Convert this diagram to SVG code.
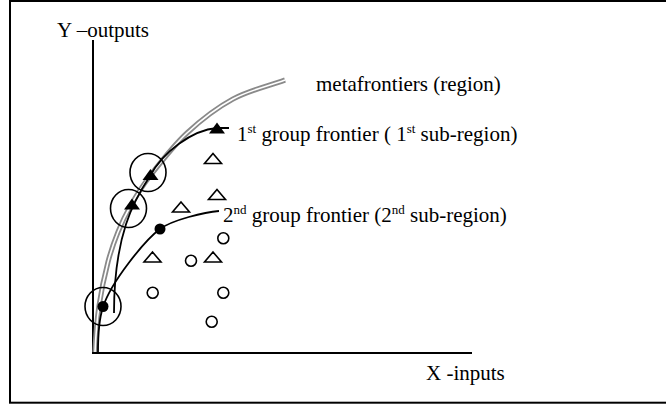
<svg xmlns="http://www.w3.org/2000/svg" xmlns:xlink="http://www.w3.org/1999/xlink" width="666" height="405" viewBox="0 0 666 405">
<style>
text{font-family:"Liberation Serif","Times New Roman",serif;font-size:21px;fill:#000}
.sup{font-size:13px}
.ax{stroke:#000;stroke-width:2;fill:none}
.fr{stroke:#000;stroke-width:1.8;fill:none}
.mfo{stroke:#8a8a8a;stroke-width:5.2;fill:none}
.mfi{stroke:#fff;stroke-width:1.6;fill:none}
.ring{stroke:#000;stroke-width:1.6;fill:none}
.ho{stroke:#000;stroke-width:1.6;fill:#fff}
.fi{fill:#000}
</style>
<defs>
<path id="tri" d="M0 -5 L8.5 5 H-8.5 Z"/>
<path id="ftri" d="M0 -5.5 L8 5.5 H-8 Z"/>
<path id="meta" d="M95 352 C95.7 336.7 96.8 321 99 306 C101.2 291 104.8 274.3 108 262 C111.2 249.7 114.2 241.5 118 232 C121.8 222.5 125.7 214.3 131 205 C136.3 195.7 140.7 188 150 176 C159.3 164 173.2 145.8 187 133 C200.8 120.2 216.7 107.8 233 99 C249.3 90.2 267.7 86.3 285 80"/>
</defs>
<rect width="666" height="405" fill="#fff"/>
<rect id="frame" x="10" y="1" width="670" height="401.7" fill="none" stroke="#000" stroke-width="2"/>
<g id="axes">
<path class="ax" d="M93 40 V353 H472"/>
</g>
<g id="connectors">
<use id="metafrontier-outer" xlink:href="#meta" class="mfo"/>
<use id="metafrontier-inner" xlink:href="#meta" class="mfi"/>
<path id="frontier1" class="fr" d="M229 128 H217 C192 130 163 152 150 176 C134 200 114 235 114 313"/>
<path id="frontier2" class="fr" d="M219 211 C205 212 172 220 160 229 C145 240 111 282 103 307 C99.3 318.4 98 335 98 352"/>
</g>
<g id="frontier-points">
<use xlink:href="#ftri" class="fi" x="217" y="128"/>
<use xlink:href="#ftri" class="fi" x="150.5" y="174.5"/>
<use xlink:href="#ftri" class="fi" x="132" y="204"/>
<circle class="fi" cx="160" cy="229" r="5.5"/>
<circle class="fi" cx="103" cy="306.5" r="5.5"/>
</g>
<g id="rings">
<ellipse class="ring" cx="148" cy="172.5" rx="18" ry="19"/>
<ellipse class="ring" cx="128.5" cy="208.5" rx="18" ry="19"/>
<ellipse class="ring" cx="103" cy="306.5" rx="18" ry="19"/>
</g>
<g id="group1-points">
<use xlink:href="#tri" class="ho" x="213" y="158.5"/>
<use xlink:href="#tri" class="ho" x="217" y="194.5"/>
<use xlink:href="#tri" class="ho" x="181" y="207"/>
<use xlink:href="#tri" class="ho" x="152.5" y="257"/>
<use xlink:href="#tri" class="ho" x="213" y="257"/>
</g>
<g id="group2-points">
<circle class="ho" cx="223.3" cy="238.3" r="5.5"/>
<circle class="ho" cx="191" cy="260.7" r="5.5"/>
<circle class="ho" cx="152.7" cy="292.7" r="5.5"/>
<circle class="ho" cx="223.3" cy="292.7" r="5.5"/>
<circle class="ho" cx="211.7" cy="321.7" r="5.5"/>
</g>
<g id="labels">
<text id="y-label" x="57" y="37">Y –outputs</text>
<text id="x-label" x="426" y="380">X -inputs</text>
<text id="meta-label" x="316" y="90.5">metafrontiers (region)</text>
<text id="g1-label" x="237" y="141">1<tspan class="sup" dy="-8">st</tspan><tspan dy="8"> group frontier ( 1</tspan><tspan class="sup" dy="-8">st</tspan><tspan dy="8"> sub-region)</tspan></text>
<text id="g2-label" x="223" y="222">2<tspan class="sup" dy="-8">nd</tspan><tspan dy="8"> group frontier (2</tspan><tspan class="sup" dy="-8">nd</tspan><tspan dy="8"> sub-region)</tspan></text>
</g>
</svg>
